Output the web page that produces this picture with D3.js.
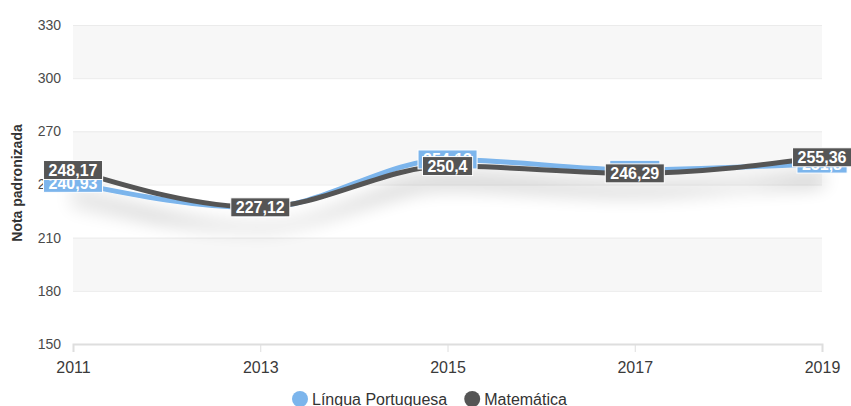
<!DOCTYPE html>
<html>
<head>
<meta charset="utf-8">
<script src="https://cdn.jsdelivr.net/npm/d3@7"></script>
<style>
  body { margin: 0; background: #fff; }
  svg { font-family: "Liberation Sans", Arial, sans-serif; }
</style>
</head>
<body>
<div id="chart"></div>
<script>
var years = [2011, 2013, 2015, 2017, 2019];
var portugues = [240.93, 226.8, 254.13, 248.3, 251.8];
var matematica = [248.17, 227.12, 250.4, 246.29, 255.36];
var yTicks = [150, 180, 210, 240, 270, 300, 330];
var seriesNames = ["Língua Portuguesa", "Matemática"];
var seriesColors = ["#7cb5ec", "#555555"];

var width = 851, height = 406;
var plotLeft = 73, plotRight = 822, plotTop = 25, plotBottom = 344;

var x = d3.scaleLinear().domain([2011, 2019]).range([plotLeft, plotRight]);
var y = d3.scaleLinear().domain([150, 330]).range([plotBottom, plotTop]);

var svg = d3.select('#chart').append('svg')
    .attr('width', width)
    .attr('height', height);

// sombra das linhas
var defs = svg.append('defs');
var f = defs.append('filter').attr('id', 'sombra')
    .attr('x', '-10%').attr('y', '-50%').attr('width', '120%').attr('height', '250%');
f.append('feGaussianBlur').attr('in', 'SourceAlpha').attr('stdDeviation', 9).attr('result', 'b');
f.append('feOffset').attr('in', 'b').attr('dy', 20).attr('result', 'o');
f.append('feComponentTransfer').attr('in', 'o').attr('result', 's')
  .append('feFuncA').attr('type', 'linear').attr('slope', 0.22);
var merge = f.append('feMerge');
merge.append('feMergeNode').attr('in', 's');
merge.append('feMergeNode').attr('in', 'SourceGraphic');

// faixas alternadas
var bands = [];
for (var i = 0; i < yTicks.length - 1; i++) {
  if (i % 2 == 1) bands.push([yTicks[i], yTicks[i + 1]]);
}
svg.selectAll('rect.band').data(bands).enter().append('rect')
    .attr('class', 'band')
    .attr('x', plotLeft)
    .attr('width', plotRight - plotLeft)
    .attr('y', function (d) { return y(d[1]); })
    .attr('height', function (d) { return y(d[0]) - y(d[1]); })
    .style('fill', '#f7f7f7');

// eixo y
var yAxis = svg.append('g')
    .attr('transform', 'translate(' + plotLeft + ',0)')
    .call(d3.axisLeft(y).tickValues(yTicks).tickSize(-(plotRight - plotLeft)).tickPadding(12));
yAxis.select('.domain').remove();
yAxis.selectAll('.tick line').style('stroke', '#ebebeb');
yAxis.selectAll('.tick text')
    .style('font-size', '14px')
    .style('fill', '#4a4a4a')
    .style('font-family', '"Liberation Sans", Arial, sans-serif');

// eixo x
var xAxis = svg.append('g')
    .attr('transform', 'translate(0,' + plotBottom + ')')
    .call(d3.axisBottom(x).tickValues(years).tickFormat(d3.format('d')).tickSize(8).tickPadding(10));
xAxis.select('.domain').style('stroke', '#dedede').style('stroke-width', 2);
xAxis.selectAll('.tick line').style('stroke', '#dedede');
xAxis.selectAll('.tick text')
    .style('font-size', '16px')
    .style('fill', '#3a3a3a')
    .style('font-family', '"Liberation Sans", Arial, sans-serif');

// titulo eixo y
svg.append('text')
    .attr('transform', 'translate(22,183) rotate(-90)')
    .attr('text-anchor', 'middle')
    .style('font-size', '14px')
    .style('font-weight', 'bold')
    .style('fill', '#333')
    .text('Nota padronizada');

// linhas
var allSeries = [portugues, matematica];
var line = d3.line()
    .x(function (d, i) { return x(years[i]); })
    .y(function (d) { return y(d); })
    .curve(d3.curveMonotoneX);

var gLines = svg.append('g').attr('filter', 'url(#sombra)');
allSeries.forEach(function (s, k) {
  gLines.append('path')
      .datum(s)
      .attr('d', line)
      .style('fill', 'none')
      .style('stroke', seriesColors[k])
      .style('stroke-width', 5)
      .style('stroke-linecap', 'round');
});

// rotulos
var fmt = function (v) { return String(v).replace('.', ','); };
allSeries.forEach(function (s, k) {
  var g = svg.append('g');
  s.forEach(function (v, i) {
    var t = g.append('text')
        .attr('x', x(years[i]))
        .attr('y', y(v) + 6)
        .attr('text-anchor', 'middle')
        .style('font-size', '16px')
        .style('font-weight', 'bold')
        .style('fill', '#fff')
        .text(fmt(v));
    var bb = t.node().getBBox();
    g.insert('rect', 'text')
        .attr('x', bb.x - 5)
        .attr('y', y(v) - 9.5)
        .attr('width', bb.width + 10)
        .attr('height', 19)
        .style('fill', seriesColors[k])
        .style('stroke', '#fff')
        .style('stroke-width', 1);
  });
});

// legenda
var legend = svg.append('g');
var lx = 300;
seriesNames.forEach(function (n, k) {
  legend.append('circle')
      .attr('cx', lx)
      .attr('cy', 399)
      .attr('r', 8)
      .style('fill', seriesColors[k]);
  var t = legend.append('text')
      .attr('x', lx + 12)
      .attr('y', 405)
      .style('font-size', '16px')
      .style('fill', '#333')
      .text(n);
  lx += 12 + t.node().getComputedTextLength() + 25;
});
</script>
</body>
</html>
